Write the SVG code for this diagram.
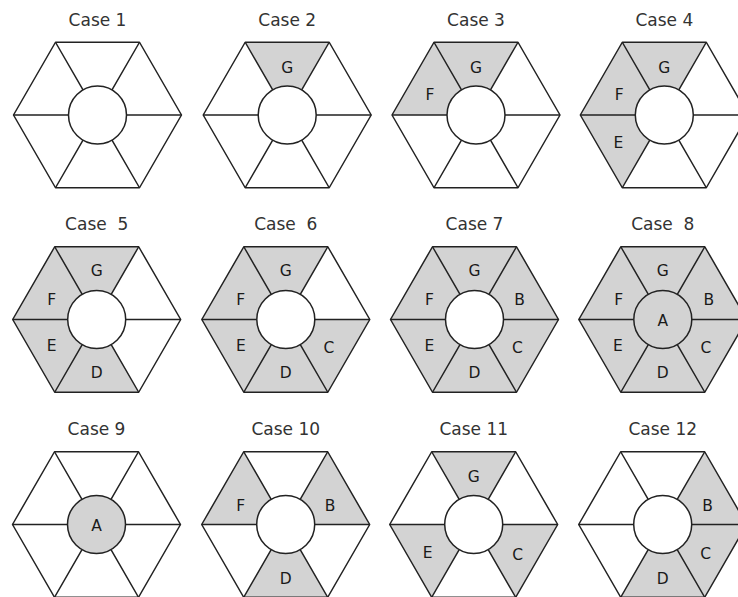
<svg xmlns="http://www.w3.org/2000/svg" xmlns:xlink="http://www.w3.org/1999/xlink" width="738" height="597" viewBox="0 0 738 597">
<style>
.t{font-family:"DejaVu Sans","Liberation Sans",sans-serif;font-size:17px;fill:#333;text-anchor:middle;white-space:pre}
.l{font-family:"DejaVu Sans","Liberation Sans",sans-serif;font-size:15.5px;fill:#1a1a1a;text-anchor:middle}
.sh{fill:#d3d3d3}
.c{fill:#fff;stroke:#222;stroke-width:1.5}
.ca{fill:#d3d3d3;stroke:#222;stroke-width:1.5}
</style>
<defs>
<path id="wG" d="M42,-72.75 L-42,-72.75 L-14.5,-25.11 A29,29 0 0 1 14.5,-25.11 Z"/>
<path id="wF" d="M-42,-72.75 L-84,0 L-29,0 A29,29 0 0 1 -14.5,-25.11 Z"/>
<path id="wE" d="M-84,0 L-42,72.75 L-14.5,25.11 A29,29 0 0 1 -29,0 Z"/>
<path id="wD" d="M-42,72.75 L42,72.75 L14.5,25.11 A29,29 0 0 1 -14.5,25.11 Z"/>
<path id="wC" d="M42,72.75 L84,0 L29,0 A29,29 0 0 1 14.5,25.11 Z"/>
<path id="wB" d="M84,0 L42,-72.75 L14.5,-25.11 A29,29 0 0 1 29,0 Z"/>
<g id="frame" fill="none" stroke="#222" stroke-width="1.5" stroke-linejoin="round">
<polygon points="84,0 42,-72.75 -42,-72.75 -84,0 -42,72.75 42,72.75"/>
<path d="M84,0 L29,0 M42,-72.75 L14.5,-25.11 M-42,-72.75 L-14.5,-25.11 M-84,0 L-29,0 M-42,72.75 L-14.5,25.11 M42,72.75 L14.5,25.11"/>
</g>
</defs>
<rect width="738" height="597" fill="#fff"/>
<g id="connectors"/>

<g id="case1" transform="translate(97.5,115)">
<text class="t" x="0" y="-89.5">Case 1</text>
<use href="#frame"/><circle class="c" r="29"/>
</g>

<g id="case2" transform="translate(287.2,115)">
<text class="t" x="0" y="-89.5">Case 2</text>
<use href="#wG" class="sh"/>
<use href="#frame"/><circle class="c" r="29"/>
<text class="l" x="0" y="-42.5">G</text>
</g>

<g id="case3" transform="translate(476,115)">
<text class="t" x="0" y="-89.5">Case 3</text>
<use href="#wG" class="sh"/><use href="#wF" class="sh"/>
<use href="#frame"/><circle class="c" r="29"/>
<text class="l" x="0" y="-42.5">G</text>
<text class="l" x="-46" y="-15">F</text>
</g>

<g id="case4" transform="translate(664.3,115)">
<text class="t" x="0" y="-89.5">Case 4</text>
<use href="#wG" class="sh"/><use href="#wF" class="sh"/><use href="#wE" class="sh"/>
<use href="#frame"/><circle class="c" r="29"/>
<text class="l" x="0" y="-42.5">G</text>
<text class="l" x="-45" y="-15">F</text>
<text class="l" x="-46" y="33">E</text>
</g>

<g id="case5" transform="translate(96.7,319.5)">
<text class="t" x="0" y="-89.5">Case  5</text>
<use href="#wG" class="sh"/><use href="#wF" class="sh"/><use href="#wE" class="sh"/><use href="#wD" class="sh"/>
<use href="#frame"/><circle class="c" r="29"/>
<text class="l" x="0" y="-43.5">G</text>
<text class="l" x="-45" y="-14.5">F</text>
<text class="l" x="-45" y="31.5">E</text>
<text class="l" x="0" y="58">D</text>
</g>

<g id="case6" transform="translate(285.8,319.5)">
<text class="t" x="0" y="-89.5">Case  6</text>
<use href="#wG" class="sh"/><use href="#wF" class="sh"/><use href="#wE" class="sh"/><use href="#wD" class="sh"/><use href="#wC" class="sh"/>
<use href="#frame"/><circle class="c" r="29"/>
<text class="l" x="0" y="-43.5">G</text>
<text class="l" x="-45" y="-14.5">F</text>
<text class="l" x="-45" y="31.5">E</text>
<text class="l" x="0" y="58">D</text>
<text class="l" x="43" y="33">C</text>
</g>

<g id="case7" transform="translate(474.5,319.5)">
<text class="t" x="0" y="-89.5">Case 7</text>
<use href="#wG" class="sh"/><use href="#wF" class="sh"/><use href="#wE" class="sh"/><use href="#wD" class="sh"/><use href="#wC" class="sh"/><use href="#wB" class="sh"/>
<use href="#frame"/><circle class="c" r="29"/>
<text class="l" x="0" y="-43.5">G</text>
<text class="l" x="-45" y="-14.5">F</text>
<text class="l" x="-45" y="31.5">E</text>
<text class="l" x="0" y="58">D</text>
<text class="l" x="43" y="33">C</text>
<text class="l" x="45" y="-14.5">B</text>
</g>

<g id="case8" transform="translate(662.8,319.5)">
<text class="t" x="0" y="-89.5">Case  8</text>
<use href="#wG" class="sh"/><use href="#wF" class="sh"/><use href="#wE" class="sh"/><use href="#wD" class="sh"/><use href="#wC" class="sh"/><use href="#wB" class="sh"/>
<use href="#frame"/><circle class="ca" r="29"/>
<text class="l" x="0" y="-43.5">G</text>
<text class="l" x="-44" y="-14.5">F</text>
<text class="l" x="-45" y="31.5">E</text>
<text class="l" x="0" y="58">D</text>
<text class="l" x="43" y="33">C</text>
<text class="l" x="46" y="-14.5">B</text>
<text class="l" x="0" y="6.5">A</text>
</g>

<g id="case9" transform="translate(96.5,524.5)">
<text class="t" x="0" y="-89.5">Case 9</text>
<use href="#frame"/><circle class="ca" r="29"/>
<text class="l" x="0" y="6.5">A</text>
</g>

<g id="case10" transform="translate(285.7,524.5)">
<text class="t" x="0" y="-89.5">Case 10</text>
<use href="#wF" class="sh"/><use href="#wB" class="sh"/><use href="#wD" class="sh"/>
<use href="#frame"/><circle class="c" r="29"/>
<text class="l" x="-45" y="-14">F</text>
<text class="l" x="44.5" y="-14">B</text>
<text class="l" x="0" y="59">D</text>
</g>

<g id="case11" transform="translate(473.7,524.5)">
<text class="t" x="0" y="-89.5">Case 11</text>
<use href="#wG" class="sh"/><use href="#wE" class="sh"/><use href="#wC" class="sh"/>
<use href="#frame"/><circle class="c" r="29"/>
<text class="l" x="0" y="-42.5">G</text>
<text class="l" x="-46" y="33.5">E</text>
<text class="l" x="44" y="35">C</text>
</g>

<g id="case12" transform="translate(662.7,524.5)">
<text class="t" x="0" y="-89.5">Case 12</text>
<use href="#wB" class="sh"/><use href="#wC" class="sh"/><use href="#wD" class="sh"/>
<use href="#frame"/><circle class="c" r="29"/>
<text class="l" x="45" y="-14">B</text>
<text class="l" x="43" y="34">C</text>
<text class="l" x="0" y="59">D</text>
</g>
</svg>
